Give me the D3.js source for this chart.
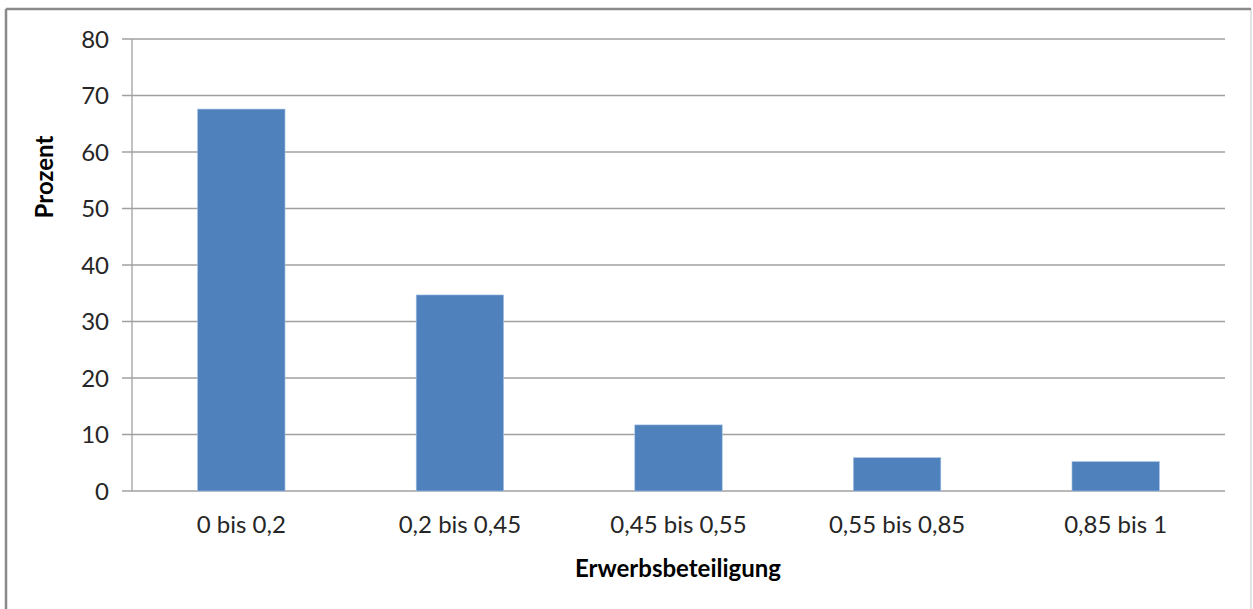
<!DOCTYPE html>
<html><head><meta charset="utf-8">
<script src="https://cdn.jsdelivr.net/npm/d3@7/dist/d3.min.js"></script>
<style>
html,body{margin:0;padding:0;background:#fff;}
svg{display:block;}
</style></head>
<body>
<script>
const categories = ["0 bis 0,2", "0,2 bis 0,45", "0,45 bis 0,55", "0,55 bis 0,85", "0,85 bis 1"];
const values = [67.6, 34.7, 11.7, 5.9, 5.2];
const yTicks = [0, 10, 20, 30, 40, 50, 60, 70, 80];
const xTitle = "Erwerbsbeteiligung";
const yTitle = "Prozent";

const W = 1253, H = 609;
const m = {left: 132, right: 28, top: 39, bottom: 118};
const font = "Lato, 'Open Sans', sans-serif";

const svg = d3.select("body").append("svg").attr("width", W).attr("height", H);

// outer frame
svg.append("rect").attr("x", 6).attr("y", 9).attr("width", 1245).attr("height", 610)
  .attr("fill", "#fff").attr("stroke", "#c8c8c8").attr("stroke-width", 1);
svg.append("line").attr("x1", 6).attr("x2", 1251).attr("y1", 9).attr("y2", 9).attr("stroke", "#8a8a8a").attr("stroke-width", 2.5);
svg.append("line").attr("x1", 6).attr("x2", 6).attr("y1", 9).attr("y2", 609).attr("stroke", "#8a8a8a").attr("stroke-width", 2.5);

const x = d3.scaleBand().domain(categories).range([m.left, W - m.right]).paddingInner(0.6).paddingOuter(0.3);
const y = d3.scaleLinear().domain([0, 80]).range([H - m.bottom, m.top]);

// gridlines
svg.append("g").selectAll("line").data(yTicks).join("line")
  .attr("x1", m.left - 10).attr("x2", W - m.right)
  .attr("y1", d => y(d)).attr("y2", d => y(d))
  .attr("stroke", "#a0a0a0").attr("stroke-width", 1.3);

// y axis line
svg.append("line").attr("x1", m.left).attr("x2", m.left).attr("y1", y(80)).attr("y2", y(0))
  .attr("stroke", "#a0a0a0").attr("stroke-width", 1.3);

// y tick labels
svg.append("g").selectAll("text").data(yTicks).join("text")
  .attr("x", 109).attr("y", d => y(d)).attr("dy", "0.36em")
  .attr("text-anchor", "end").attr("font-family", font).attr("font-size", 24)
  .attr("fill", "#262626").text(d => d);

// bars
svg.append("g").selectAll("rect").data(values).join("rect")
  .attr("x", (d, i) => x(categories[i])).attr("width", x.bandwidth())
  .attr("y", d => y(d)).attr("height", d => y(0) - y(d))
  .attr("fill", "#4f81bd").attr("stroke", "#a9c4e6").attr("stroke-width", 0.6);

// x labels
svg.append("g").selectAll("text").data(categories).join("text")
  .attr("x", d => x(d) + x.bandwidth() / 2).attr("y", 533)
  .attr("text-anchor", "middle").attr("font-family", font).attr("font-size", 24)
  .attr("fill", "#262626").text(d => d);

// axis titles
svg.append("text").attr("x", 678).attr("y", 577).attr("text-anchor", "middle")
  .attr("font-family", font).attr("font-size", 24).attr("font-weight", "bold")
  .attr("fill", "#000").text(xTitle);
svg.append("text").attr("transform", "translate(53,177) rotate(-90)").attr("text-anchor", "middle")
  .attr("font-family", font).attr("font-size", 24).attr("font-weight", "bold")
  .attr("fill", "#000").text(yTitle);
</script>
</body></html>
